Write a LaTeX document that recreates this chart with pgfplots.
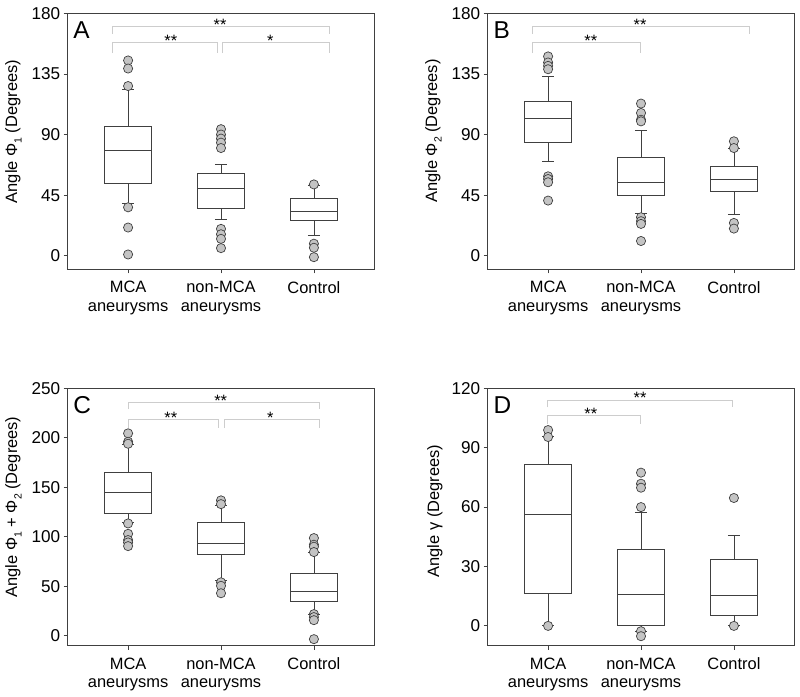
\documentclass[border=0pt]{standalone}
\usepackage{pgfplots}
\pgfplotsset{compat=1.18}
\usepgfplotslibrary{statistics}
\usepackage{fontspec}
\setmainfont{Liberation Sans}
\definecolor{ln}{HTML}{404040}
\definecolor{fl}{HTML}{C4C4C4}
\definecolor{br}{HTML}{CDCDCD}
\newcommand\fs{\fontsize{16.5}{18.3}\selectfont}
\newcommand\sub[1]{\raisebox{-0.28em}{\fontsize{10.5}{10.5}\selectfont #1}}
\tikzset{
  lett/.style={font=\fontsize{24.5}{24.5}\selectfont, inner sep=0pt, anchor=north west, xshift=5.6bp, yshift=-8.4bp},
  ast/.style={font=\fs, anchor=base, inner sep=0pt, yshift=-4bp},
}
\pgfplotsset{
  panel/.style={
    scale only axis, width=306.6bp,
    xmin=0.35, xmax=3.65, ymin=-10,
    xtick={1,2,3}, xticklabels={MCA\\aneurysms,non-MCA\\aneurysms,Control},
    axis line style={draw=ln, line width=1.1bp},
    tick style={draw=ln, line width=0.8bp},
    tick align=outside, major tick length=4bp,
    xtick pos=bottom, ytick pos=left,
    tick label style={font=\fs, text=black},
    yticklabel style={font=\fontsize{17.2}{18}\selectfont},
    xticklabel style={align=center, yshift=-4.5bp},
    /pgf/number format/assume math mode=true,
    label style={font=\fs},
    clip=false,
    boxplot/draw direction=y,
    boxplot/box extend=0.5,
    boxplot/whisker extend=0.13,
  },
  bx/.style={draw=ln, line width=0.8bp, mark=*, mark size=4.6bp,
    mark options={fill=fl, draw=ln, line width=0.7bp, solid}},
  brk/.style={draw=br, line width=0.9bp, mark=none},
}
\begin{document}
\begin{tikzpicture}
\useasboundingbox (0,0) rectangle (800bp,697bp);
% ---------------- A ----------------
\begin{axis}[panel, at={(67.7bp,427.7bp)}, anchor=south west, height=256bp,
  ymax=180, ytick={0,45,90,135,180},
  ylabel={Angle Φ\sub{1} (Degrees)},
  ylabel style={at={(axis description cs:-0.177,0.538)}, anchor=center}]
\addplot[bx, boxplot prepared={lower whisker=39, lower quartile=53.6, median=78, upper quartile=96, upper whisker=123.7, draw position=1}]
  coordinates {(0,145)(0,139)(0,126)(0,36)(0,21)(0,1)};
\addplot[bx, boxplot prepared={lower whisker=27, lower quartile=35, median=50, upper quartile=61, upper whisker=68, draw position=2}]
  coordinates {(0,94)(0,90)(0,87)(0,84)(0,80)(0,20)(0,16)(0,12.6)(0,5.7)};
\addplot[bx, boxplot prepared={lower whisker=15, lower quartile=26, median=33, upper quartile=42.5, upper whisker=52, draw position=3}]
  coordinates {(0,53)(0,9)(0,6)(0,-1)};
\addplot[brk] coordinates {(0.834,165)(0.834,170.3)(3.166,170.3)(3.166,165)};
\addplot[brk] coordinates {(0.834,150.5)(0.834,158.4)(1.96,158.4)(1.96,150.5)};
\addplot[brk] coordinates {(2.018,150.5)(2.018,158.4)(3.166,158.4)(3.166,150.5)};
\node[ast] at (axis cs:1.99,170.3) {**};
\node[ast] at (axis cs:1.46,158.4) {**};
\node[ast] at (axis cs:2.53,158.4) {*};
\node[lett] at (rel axis cs:0,1) {A};
\end{axis}
% ---------------- B ----------------
\begin{axis}[panel, at={(487.7bp,427.7bp)}, anchor=south west, height=256bp,
  ymax=180, ytick={0,45,90,135,180},
  ylabel={Angle Φ\sub{2} (Degrees)},
  ylabel style={at={(axis description cs:-0.177,0.54)}, anchor=center}]
\addplot[bx, boxplot prepared={lower whisker=70.4, lower quartile=84.4, median=101.7, upper quartile=114.6, upper whisker=133, draw position=1}]
  coordinates {(0,148)(0,143.5)(0,141)(0,138.5)(0,59)(0,57)(0,54.6)(0,41)};
\addplot[bx, boxplot prepared={lower whisker=31.6, lower quartile=44.7, median=54.6, upper quartile=73.3, upper whisker=93.3, draw position=2}]
  coordinates {(0,113)(0,106)(0,101)(0,99.8)(0,28.6)(0,25.7)(0,23.7)(0,11)};
\addplot[bx, boxplot prepared={lower whisker=31, lower quartile=47.9, median=56.8, upper quartile=66.7, upper whisker=80, draw position=3}]
  coordinates {(0,85)(0,80)(0,24.4)(0,20.2)};
\addplot[brk] coordinates {(0.834,165)(0.834,170.3)(3.166,170.3)(3.166,165)};
\addplot[brk] coordinates {(0.834,150.5)(0.834,158.4)(1.99,158.4)(1.99,150.5)};
\node[ast] at (axis cs:1.99,170.3) {**};
\node[ast] at (axis cs:1.46,158.4) {**};
\node[lett] at (rel axis cs:0,1) {B};
\end{axis}
% ---------------- C ----------------
\begin{axis}[panel, at={(67.7bp,51.3bp)}, anchor=south west, height=257.4bp,
  ymax=250, ytick={0,50,100,150,200,250},
  ylabel={Angle Φ\sub{1} + Φ\sub{2} (Degrees)},
  ylabel style={at={(axis description cs:-0.177,0.539)}, anchor=center}]
\addplot[bx, boxplot prepared={lower whisker=114.6, lower quartile=124, median=145.2, upper quartile=164.8, upper whisker=193, draw position=1}]
  coordinates {(0,204.5)(0,196)(0,194)(0,113.5)(0,103)(0,96.7)(0,94.3)(0,90.6)};
\addplot[bx, boxplot prepared={lower whisker=56.3, lower quartile=82.2, median=93.7, upper quartile=114.6, upper whisker=131.7, draw position=2}]
  coordinates {(0,136.8)(0,133)(0,54)(0,50.5)(0,43)};
\addplot[bx, boxplot prepared={lower whisker=21.9, lower quartile=35, median=44.8, upper quartile=63.3, upper whisker=83.9, draw position=3}]
  coordinates {(0,98.7)(0,92)(0,90)(0,84.6)(0,21.9)(0,18.9)(0,15.8)(0,-3.4)};
\addplot[brk] coordinates {(1.0,229)(1.0,235.5)(3.055,235.5)(3.055,229)};
\addplot[brk] coordinates {(1.0,209.7)(1.0,218.7)(1.97,218.7)(1.97,209.7)};
\addplot[brk] coordinates {(2.036,209.7)(2.036,218.7)(3.055,218.7)(3.055,209.7)};
\node[ast] at (axis cs:1.997,235.5) {**};
\node[ast] at (axis cs:1.46,218.7) {**};
\node[ast] at (axis cs:2.53,218.7) {*};
\node[lett] at (rel axis cs:0,1) {C};
\end{axis}
% ---------------- D ----------------
\begin{axis}[panel, at={(487.7bp,51.3bp)}, anchor=south west, height=257.4bp,
  ymax=120, ytick={0,30,60,90,120},
  ylabel={Angle γ (Degrees)},
  ylabel style={at={(axis description cs:-0.172,0.523)}, anchor=center}]
\addplot[bx, boxplot prepared={lower whisker=0, lower quartile=16.5, median=56.3, upper quartile=81.7, upper whisker=95.7, draw position=1}]
  coordinates {(0,98.9)(0,95.4)(0,0)};
\addplot[bx, boxplot prepared={lower whisker=-2.7, lower quartile=0, median=16, upper quartile=38.6, upper whisker=57.5, draw position=2}]
  coordinates {(0,77.4)(0,71.8)(0,69.8)(0,60)(0,-2.7)(0,-5.2)};
\addplot[bx, boxplot prepared={lower whisker=0, lower quartile=5.1, median=15.2, upper quartile=33.5, upper whisker=45.5, draw position=3}]
  coordinates {(0,64.6)(0,0)};
\addplot[brk] coordinates {(0.988,110.4)(0.988,114.1)(2.98,114.1)(2.98,110.4)};
\addplot[brk] coordinates {(0.988,102)(0.988,106.2)(1.99,106.2)(1.99,102)};
\node[ast] at (axis cs:1.99,114.1) {**};
\node[ast] at (axis cs:1.46,106.2) {**};
\node[lett] at (rel axis cs:0,1) {D};
\end{axis}
\end{tikzpicture}
\end{document}
